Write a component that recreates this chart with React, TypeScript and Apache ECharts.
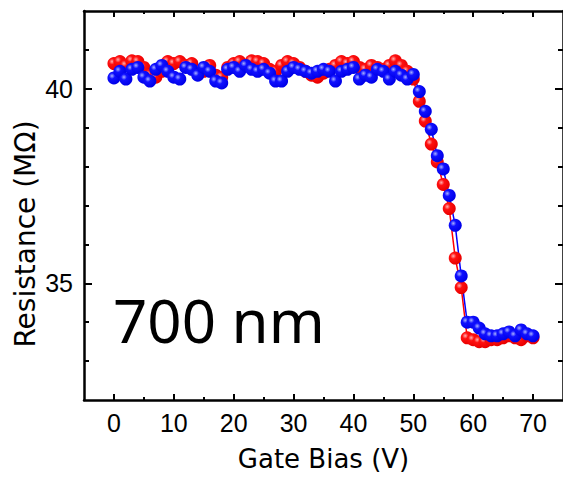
import React, { useEffect, useRef } from "react";
import * as echarts from "echarts";

const gateBias: number[] = Array.from({ length: 71 }, (_, i) => i);

const redResistance: number[] = [
  40.65, 40.7, 40.6, 40.72, 40.7, 40.55, 40.35, 40.3, 40.45, 40.7,
  40.65, 40.7, 40.6, 40.65, 40.4, 40.45, 40.6, 40.35, 40.3, 40.55,
  40.65, 40.7, 40.6, 40.72, 40.7, 40.65, 40.5, 40.45, 40.6, 40.7,
  40.65, 40.55, 40.45, 40.35, 40.3, 40.4, 40.5, 40.6, 40.7, 40.65,
  40.7, 40.55, 40.5, 40.6, 40.55, 40.5, 40.6, 40.72, 40.6, 40.45,
  40.25, 39.68, 39.17, 38.58, 38.12, 37.54, 36.92, 35.65, 34.89, 33.6,
  33.55, 33.5, 33.5, 33.55, 33.55, 33.6, 33.65, 33.6, 33.55, 33.65,
  33.6,
];

const blueResistance: number[] = [
  40.28, 40.45, 40.25, 40.5, 40.55, 40.3, 40.2, 40.5, 40.6, 40.45,
  40.3, 40.25, 40.55, 40.5, 40.35, 40.55, 40.45, 40.2, 40.15, 40.5,
  40.55, 40.45, 40.6, 40.5, 40.45, 40.5, 40.4, 40.2, 40.2, 40.45,
  40.55, 40.5, 40.45, 40.4, 40.45, 40.5, 40.45, 40.2, 40.45, 40.5,
  40.55, 40.25, 40.35, 40.3, 40.5, 40.45, 40.25, 40.45, 40.35, 40.25,
  40.37, 39.93, 39.42, 38.96, 38.28, 37.94, 37.26, 36.49, 35.19, 34.0,
  34.0, 33.85, 33.7, 33.65, 33.65, 33.7, 33.75, 33.65, 33.8, 33.7,
  33.65,
];

const xMajorTicks: number[] = [0, 10, 20, 30, 40, 50, 60, 70];
const xMinorTicks: number[] = [5, 15, 25, 35, 45, 55, 65];
const yMajorTicks: number[] = [35, 40];
const yMinorTicks: number[] = [33, 34, 36, 37, 38, 39, 41];

const sampleLabel = "700 nm";

export default function App() {
  const ref = useRef<HTMLDivElement>(null);

  useEffect(() => {
    if (!ref.current) return;
    const chart = echarts.init(ref.current, null, { renderer: "svg" });

    const tickFont = "'Liberation Sans', Arial, sans-serif";
    const nameFont = "'DejaVu Sans', 'Liberation Sans', sans-serif";

    const baseX = (position: "bottom" | "top", ticks: number[], len: number, showLine: boolean, showLabel: boolean) => ({
      type: "value" as const,
      position,
      min: -5,
      max: 75,
      gridIndex: 0,
      axisLine: { show: showLine, onZero: false, lineStyle: { color: "#000", width: 2.5 } },
      axisTick: { show: true, inside: true, length: len, customValues: ticks, lineStyle: { color: "#000", width: 2 } },
      axisLabel: showLabel
        ? { show: true, customValues: ticks, margin: 10, color: "#000", fontSize: 25, fontFamily: tickFont }
        : { show: false },
      splitLine: { show: false },
    });

    const baseY = (position: "left" | "right", ticks: number[], len: number, showLine: boolean, showLabel: boolean) => ({
      type: "value" as const,
      position,
      min: 32,
      max: 42,
      gridIndex: 0,
      axisLine: { show: showLine, onZero: false, lineStyle: { color: "#000", width: 2.5 } },
      axisTick: { show: true, inside: true, length: len, customValues: ticks, lineStyle: { color: "#000", width: 2 } },
      axisLabel: showLabel
        ? { show: true, customValues: ticks, margin: 11, color: "#000", fontSize: 25, fontFamily: tickFont }
        : { show: false },
      splitLine: { show: false },
    });

    const xAxes = [
      {
        ...baseX("bottom", xMajorTicks, 6, true, true),
        name: "Gate Bias (V)",
        nameLocation: "middle",
        nameGap: 46,
        nameTextStyle: { color: "#000", fontSize: 26, fontFamily: nameFont },
      },
      baseX("bottom", xMinorTicks, 3, false, false),
      baseX("top", xMajorTicks, 6, true, false),
      baseX("top", xMinorTicks, 3, false, false),
    ];
    const yAxes = [
      baseY("left", yMajorTicks, 8, true, true),
      baseY("left", yMinorTicks, 5, false, false),
      baseY("right", yMajorTicks, 8, true, false),
      baseY("right", yMinorTicks, 5, false, false),
    ];

    const redGrad = new echarts.graphic.RadialGradient(0.35, 0.35, 0.65, [
      { offset: 0, color: "#ffb0b0" },
      { offset: 0.35, color: "#ff1010" },
      { offset: 1, color: "#e80000" },
    ]);
    const blueGrad = new echarts.graphic.RadialGradient(0.35, 0.35, 0.65, [
      { offset: 0, color: "#a8b0ff" },
      { offset: 0.35, color: "#1010ff" },
      { offset: 1, color: "#0000e8" },
    ]);

    const option: any = {
      animation: false,
      backgroundColor: "#fff",
      grid: { left: 84, top: 11, width: 481, height: 392, containLabel: false },
      xAxis: xAxes,
      yAxis: yAxes,
      series: [
        {
          type: "line",
          name: "red",
          xAxisIndex: 0,
          yAxisIndex: 0,
          data: gateBias.map((x, i) => [x, redResistance[i]]),
          symbol: "circle",
          symbolSize: 13,
          lineStyle: { color: "#ff0000", width: 1.5 },
          itemStyle: { color: redGrad },
        },
        {
          type: "line",
          name: "blue",
          xAxisIndex: 0,
          yAxisIndex: 0,
          data: gateBias.map((x, i) => [x, blueResistance[i]]),
          symbol: "circle",
          symbolSize: 13,
          lineStyle: { color: "#0000ff", width: 1.5 },
          itemStyle: { color: blueGrad },
        },
      ],
      graphic: [
        {
          type: "text",
          left: 113,
          top: 290,
          style: {
            text: sampleLabel,
            fontSize: 60,
            fontFamily: "'Noto Sans', 'Open Sans', sans-serif",
            fill: "#000",
          },
        },
        {
          type: "text",
          x: 25,
          y: 234,
          rotation: Math.PI / 2,
          style: {
            text: "Resistance (MΩ)",
            fontSize: 28,
            fontFamily: nameFont,
            fill: "#000",
            align: "center",
            verticalAlign: "middle",
          },
        },
      ],
    };

    chart.setOption(option);
    return () => chart.dispose();
  }, []);

  return (
    <div
      ref={ref}
      style={{ position: "absolute", left: 0, top: 0, width: 563, height: 477, background: "#fff" }}
    />
  );
}
